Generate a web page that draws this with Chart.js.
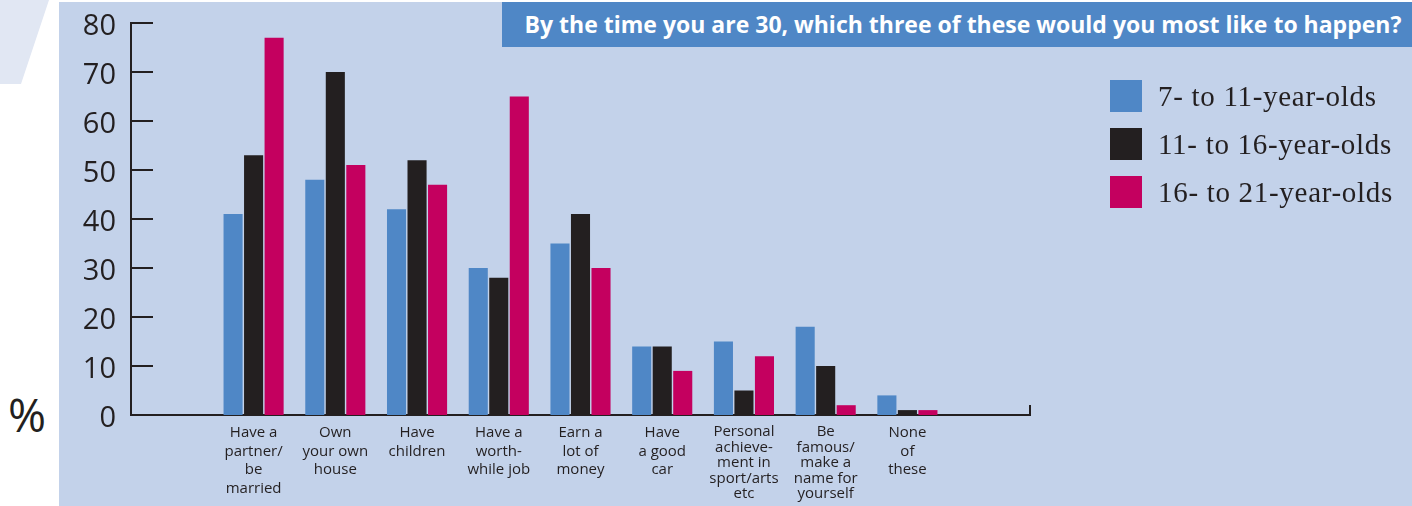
<!DOCTYPE html>
<html>
<head>
<meta charset="utf-8">
<script src="https://cdn.jsdelivr.net/npm/chart.js@4.4.0/dist/chart.umd.min.js"></script>
<style>
  html, body { margin: 0; padding: 0; background: #ffffff; }
  #wrap { position: relative; width: 1412px; height: 506px; overflow: hidden; background: #ffffff; }
  #shape { position: absolute; left: 0; top: 0; width: 50px; height: 84px; background: #E1E7F3;
           clip-path: polygon(0 0, 49px 0, 21px 84px, 0 84px); }
  #panel { position: absolute; left: 59px; top: 2px; right: 0; bottom: 0; background: #C3D2EA; }
  #banner { position: absolute; left: 502px; top: 2px; width: 898px; padding-left: 12px; height: 45px; background: #4F87C6;
            color: #ffffff; font-family: "Open Sans", sans-serif; font-weight: bold; font-size: 23px;
            line-height: 44px; text-align: center; white-space: nowrap; }
  #pct { position: absolute; left: 8px; top: 386px; font-family: "Open Sans", sans-serif; font-size: 46px;
         color: #231F20; line-height: 56px; }
  #legend { position: absolute; left: 1110px; top: 80px; font-family: "Liberation Serif", serif; font-size: 29px;
            letter-spacing: 0.7px; color: #231F20; }
  .li { position: relative; height: 48px; }
  .sw { position: absolute; left: 0; top: 0; width: 32px; height: 32px; }
  .lt { position: absolute; left: 48px; top: 0; line-height: 32px; white-space: nowrap; }
  canvas { position: absolute; left: 0; top: 0; }
</style>
</head>
<body>
<div id="wrap">
  <div id="shape"></div>
  <div id="panel"></div>
  <div id="banner">By the time you are 30, which three of these would you most like to happen?</div>
  <div id="pct">%</div>
  <canvas id="c" width="1412" height="506"></canvas>
  <div id="legend"></div>
</div>
<script>
// ---- data ----
const categories = [
  ["Have a", "partner/", "be", "married"],
  ["Own", "your own", "house"],
  ["Have", "children"],
  ["Have a", "worth-", "while job"],
  ["Earn a", "lot of", "money"],
  ["Have", "a good", "car"],
  ["Personal", "achieve-", "ment in", "sport/arts", "etc"],
  ["Be", "famous/", "make a", "name for", "yourself"],
  ["None", "of", "these"]
];
const seriesNames = ["7- to 11-year-olds", "11- to 16-year-olds", "16- to 21-year-olds"];
const ages7to11  = [41, 48, 42, 30, 35, 14, 15, 18, 4];
const ages11to16 = [53, 70, 52, 28, 41, 14, 5, 10, 1];
const ages16to21 = [77, 51, 47, 65, 30, 9, 12, 2, 1];
const yTicks = [0, 10, 20, 30, 40, 50, 60, 70, 80];

const colors = ["#4F87C6", "#231F20", "#C4005F"];
const ink = "#231F20";

// empty slot before and after the categories to reproduce the axis overhang
const pad = arr => [null, ...arr, null];
const labels = pad(categories).map(l => l === null ? "" : l);
const allSeries = [ages7to11, ages11to16, ages16to21];

const axisDecor = {
  id: 'axisDecor',
  afterDraw(chart) {
    const ctx = chart.ctx, y = chart.scales.y, a = chart.chartArea;
    ctx.save();
    ctx.strokeStyle = ink;
    ctx.lineWidth = 2;
    ctx.beginPath();
    yTicks.forEach(v => {
      if (v === 0) return;
      const py = Math.round(y.getPixelForValue(v));
      ctx.moveTo(a.left, py);
      ctx.lineTo(a.left + 22, py);
    });
    // end tick at right of x axis
    ctx.moveTo(a.right, a.bottom + 1);
    ctx.lineTo(a.right, a.bottom - 10);
    ctx.stroke();
    ctx.restore();
  }
};

const chart = new Chart(document.getElementById('c'), {
  type: 'bar',
  data: {
    labels: labels,
    datasets: allSeries.map((s, i) => ({
      label: seriesNames[i],
      data: pad(s),
      backgroundColor: colors[i],
      borderWidth: 0,
      categoryPercentage: 0.753,
      barPercentage: 0.93
    }))
  },
  options: {
    responsive: false,
    animation: false,
    layout: { autoPadding: false, padding: { left: 0, top: 23, right: 382, bottom: 0 } },
    plugins: { legend: { display: false }, tooltip: { enabled: false }, title: { display: false } },
    scales: {
      x: {
        grid: { display: false, drawTicks: false },
        border: { display: true, color: ink, width: 2 },
        ticks: {
          color: ink, padding: 9, maxRotation: 0, autoSkip: false,
          font: (ctx) => {
            const l = labels[ctx.index];
            const n = Array.isArray(l) ? l.length : 1;
            return { family: "'Open Sans', sans-serif", size: 15, lineHeight: (n >= 5 ? 15.6 : 18.4) + 'px' };
          }
        },
        afterFit(scale) { scale.height = 91; scale.paddingLeft = 0; scale.paddingRight = 0; }
      },
      y: {
        min: 0, max: 80,
        grid: { display: false, drawTicks: false },
        border: { display: true, color: ink, width: 2 },
        ticks: {
          stepSize: 10, color: ink, padding: 15, labelOffset: 4,
          font: { family: "'Open Sans', sans-serif", size: 29 }
        },
        afterFit(scale) { scale.width = 131; scale.paddingTop = 0; scale.paddingBottom = 0; }
      }
    }
  },
  plugins: [axisDecor]
});

// HTML legend built from the chart datasets
const leg = document.getElementById('legend');
chart.data.datasets.forEach(ds => {
  const row = document.createElement('div'); row.className = 'li';
  const sw = document.createElement('div'); sw.className = 'sw'; sw.style.background = ds.backgroundColor;
  const t = document.createElement('div'); t.className = 'lt'; t.textContent = ds.label;
  row.appendChild(sw); row.appendChild(t); leg.appendChild(row);
});
</script>
</body>
</html>
